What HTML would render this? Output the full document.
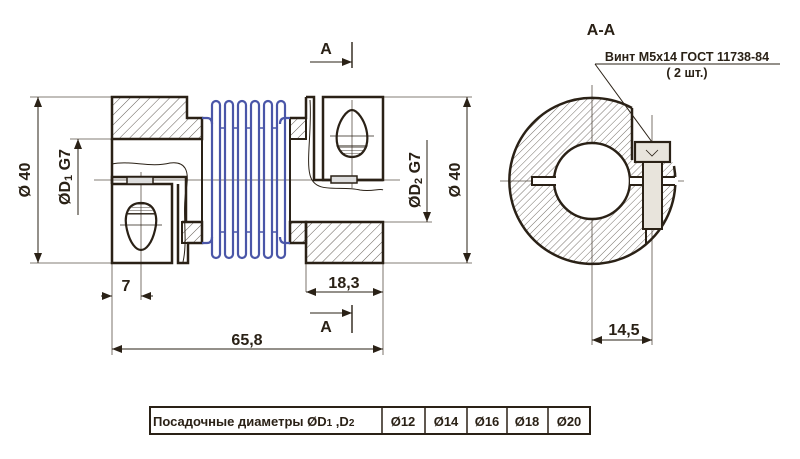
<!DOCTYPE html>
<html><head><meta charset="utf-8"><style>
html,body{margin:0;padding:0;background:#fff;}
svg{display:block;}
text{font-family:"Liberation Sans",sans-serif;font-weight:bold;fill:#2a2116;}
</style></head><body>
<svg width="800" height="459" viewBox="0 0 800 459" xmlns="http://www.w3.org/2000/svg">
<defs>
<pattern id="h" width="7" height="7" patternUnits="userSpaceOnUse" patternTransform="rotate(45)">
<line x1="0" y1="0" x2="0" y2="7" stroke="#3a3128" stroke-width="0.8"/>
</pattern>
<pattern id="hs" width="5" height="5" patternUnits="userSpaceOnUse" patternTransform="rotate(45)">
<line x1="0" y1="0" x2="0" y2="5" stroke="#3a3128" stroke-width="0.7"/>
</pattern>
<pattern id="h2" width="3" height="3" patternUnits="userSpaceOnUse" patternTransform="rotate(90)">
<line x1="0" y1="0" x2="0" y2="3" stroke="#3a3128" stroke-width="0.9"/>
</pattern>
<marker id="a" markerWidth="10" markerHeight="8" refX="10" refY="4" orient="auto-start-reverse" markerUnits="userSpaceOnUse">
<path d="M0,0 L10,4 L0,8 Z" fill="#2a2116"/>
</marker>
</defs>
<g stroke="#2a2116" fill="none">
<!-- thin extension/center lines -->
<g stroke-width="0.8" stroke="#5a5046">
<line x1="94" y1="180" x2="400" y2="180"/>
<line x1="30" y1="97" x2="112" y2="97"/>
<line x1="30" y1="263" x2="112" y2="263"/>
<line x1="70" y1="139" x2="112" y2="139"/>
<line x1="383" y1="97" x2="472" y2="97"/>
<line x1="383" y1="263" x2="472" y2="263"/>
<line x1="383" y1="222" x2="432" y2="222"/>
<line x1="112" y1="263" x2="112" y2="355"/>
<line x1="141" y1="172" x2="141" y2="300"/>
<line x1="306" y1="263" x2="306" y2="292"/>
<line x1="383" y1="263" x2="383" y2="355"/>
<line x1="352" y1="100" x2="352" y2="188"/>
<line x1="500" y1="181" x2="684" y2="181"/>
<line x1="592" y1="85" x2="592" y2="345"/>
<line x1="652" y1="115" x2="652" y2="345"/>
</g>
<!-- dimensions -->
<g stroke-width="1">
<line x1="38" y1="97" x2="38" y2="263" marker-start="url(#a)" marker-end="url(#a)"/>
<line x1="78" y1="215" x2="78" y2="139" marker-end="url(#a)"/>
<line x1="467" y1="97" x2="467" y2="263" marker-start="url(#a)" marker-end="url(#a)"/>
<line x1="427" y1="140" x2="427" y2="222" marker-end="url(#a)"/>
<line x1="101" y1="296" x2="112" y2="296" marker-end="url(#a)"/>
<line x1="153" y1="296" x2="141" y2="296" marker-end="url(#a)"/>
<line x1="306" y1="292" x2="383" y2="292" marker-start="url(#a)" marker-end="url(#a)"/>
<line x1="112" y1="349" x2="383" y2="349" marker-start="url(#a)" marker-end="url(#a)"/>
<line x1="310" y1="62" x2="352" y2="62" marker-end="url(#a)"/>
<line x1="310" y1="313" x2="352" y2="313" marker-end="url(#a)"/>
<line x1="592" y1="340" x2="652" y2="340" marker-start="url(#a)" marker-end="url(#a)"/>
<line x1="352" y1="42" x2="352" y2="68" stroke-width="1.4"/>
<line x1="352" y1="305" x2="352" y2="333" stroke-width="1.4"/>
<line x1="595" y1="64" x2="780" y2="64"/>
<line x1="595" y1="64" x2="652" y2="142"/>
</g>
<!-- left hub -->
<g stroke-width="2.5">
<path d="M112,97 H187 V118 H202 V139 H112 Z" fill="url(#h)"/>
<path d="M112,139 V263 H172 V184 H112" />
<path d="M172,177 H112 V184"/>
<rect x="127" y="177" width="26" height="7" fill="#ddd" stroke-width="1.5"/>
<path d="M172,177 H186 V222" />
<path d="M178,184 V263 H188 V243 H202 V222 H182" />
<rect x="182" y="222" width="20" height="21" fill="url(#h)" stroke-width="2"/>
<line x1="202" y1="139" x2="202" y2="222" stroke-width="2"/>
</g>
<path d="M112,164 C130,160 150,168 170,163 C185,161 190,170 186,190 C182,215 188,240 183,262" stroke-width="1"/>
<path d="M141,203 C156,203 158,218 155,230 C152,243 146,250 141,250 C136,250 130,243 127,230 C124,218 126,203 141,203 Z" stroke-width="2.2"/>
<path d="M127,214 C128,205 134,203 141,203 C148,203 154,205 155,214 Z" fill="url(#h2)" stroke-width="1"/>
<line x1="120" y1="225" x2="162" y2="225" stroke-width="0.8"/>
<!-- right hub -->
<g stroke-width="2.5">
<path d="M306,263 H383 V222 H306 Z" fill="url(#h)"/>
<path d="M290,222 H306 V243 H290 Z" fill="url(#h)"/>
<path d="M323,97 H383 V180 H323 Z"/>
<path d="M306,97 H314 V180 H383"/>
<rect x="331" y="176" width="26" height="7" fill="#ddd" stroke-width="1.5"/>
<path d="M290,118 H306 V97"/>
<rect x="290" y="118" width="16" height="21" fill="url(#h)" stroke-width="2"/>
<line x1="290" y1="139" x2="290" y2="222" stroke-width="2"/>
</g>
<path d="M310,100 C312,130 306,160 310,175 C315,195 340,185 360,190 C372,192 380,188 383,190" stroke-width="1"/>
<path d="M352,110 C357,110 365,120 367,133 C369,148 362,157 352,157 C342,157 335,148 337,133 C339,120 347,110 352,110 Z" stroke-width="2.2"/>
<path d="M337,146 C340,154 346,157 352,157 C358,157 364,154 367,146 Z" fill="url(#h2)" stroke-width="1"/>
<line x1="330" y1="136" x2="374" y2="136" stroke-width="0.8"/>
<!-- bellows -->
<g stroke="#4a56a8" stroke-width="2.2">
<path d="M202,118 H207 Q212,118 212,124 M202,243 H207 Q212,243 212,237"/>
<path d="M290,118 H285 Q280,118 280,124 M290,243 H285 Q280,243 280,237"/>
<rect x="212" y="101" width="8" height="157" rx="4"/>
<rect x="225" y="101" width="8" height="157" rx="4"/>
<rect x="238" y="101" width="8" height="157" rx="4"/>
<rect x="251" y="101" width="8" height="157" rx="4"/>
<rect x="264" y="101" width="8" height="157" rx="4"/>
<rect x="277" y="101" width="8" height="157" rx="4"/>
<path d="M220,128 h5 M233,128 h5 M246,128 h5 M259,128 h5 M272,128 h5 M220,232 h5 M233,232 h5 M246,232 h5 M259,232 h5 M272,232 h5" stroke-width="1.6"/>
</g>
<!-- section A-A -->
<path d="M632,108 A83,83 0 1 0 672,160 H632 Z M630,181 A38,38 0 1 0 554,181 A38,38 0 1 0 630,181 Z" fill="url(#hs)" fill-rule="evenodd" stroke="none"/>
<path d="M632,108 A83,83 0 1 0 674,166" stroke-width="2.5"/>
<path d="M632,108 V160" stroke-width="2.5"/>
<circle cx="592" cy="181" r="38" fill="#fff" stroke-width="2.5"/>
<rect x="532" y="177" width="24" height="8" fill="#fff" stroke="none"/>
<path d="M556,177 H532 V185 H556" stroke-width="2"/>
<rect x="630" y="177" width="48" height="8" fill="#fff" stroke="none"/>
<line x1="630" y1="177" x2="675" y2="177" stroke-width="2"/>
<line x1="630" y1="185" x2="675" y2="185" stroke-width="2"/>
<rect x="635" y="142" width="35" height="20" fill="#e8e4dc" stroke-width="2.2"/>
<rect x="643" y="162" width="19" height="67" fill="#e8e4dc" stroke-width="2"/>
<path d="M646,150 L652,156 L658,150" stroke-width="0.8"/>
<line x1="646" y1="229" x2="646" y2="244" stroke-width="2"/>
<!-- table -->
<rect x="150" y="407" width="440" height="27" stroke-width="2"/>
<g stroke-width="1.5">
<line x1="382" y1="407" x2="382" y2="434"/>
<line x1="425" y1="407" x2="425" y2="434"/>
<line x1="467" y1="407" x2="467" y2="434"/>
<line x1="507" y1="407" x2="507" y2="434"/>
<line x1="548" y1="407" x2="548" y2="434"/>
</g>
</g>
<!-- texts -->
<text x="26" y="180" font-size="16" text-anchor="middle" transform="rotate(-90 26 180)" dominant-baseline="middle">Ø 40</text>
<text x="66" y="177" font-size="16" text-anchor="middle" transform="rotate(-90 66 177)" dominant-baseline="middle">ØD<tspan font-size="11" dy="3">1</tspan><tspan dy="-3"> G7</tspan></text>
<text x="416" y="180" font-size="16" text-anchor="middle" transform="rotate(-90 416 180)" dominant-baseline="middle">ØD<tspan font-size="11" dy="3">2</tspan><tspan dy="-3"> G7</tspan></text>
<text x="456" y="180" font-size="16" text-anchor="middle" transform="rotate(-90 456 180)" dominant-baseline="middle">Ø 40</text>
<text x="126" y="291" font-size="16" text-anchor="middle">7</text>
<text x="344" y="288" font-size="16" text-anchor="middle">18,3</text>
<text x="247" y="345" font-size="16" text-anchor="middle">65,8</text>
<text x="326" y="54" font-size="16" text-anchor="middle">A</text>
<text x="326" y="332" font-size="16" text-anchor="middle">A</text>
<text x="601" y="35" font-size="16" text-anchor="middle">A-A</text>
<text x="687" y="61" font-size="12.5" text-anchor="middle">Винт М5х14 ГОСТ 11738-84</text>
<text x="687" y="77" font-size="12.5" text-anchor="middle">( 2 шт.)</text>
<text x="624" y="335" font-size="16" text-anchor="middle">14,5</text>
<text x="153" y="426" font-size="13">Посадочные  диаметры  ØD<tspan font-size="10">1</tspan> ,D<tspan font-size="10">2</tspan></text>
<text x="403" y="426" font-size="13" text-anchor="middle">Ø12</text>
<text x="446" y="426" font-size="13" text-anchor="middle">Ø14</text>
<text x="487" y="426" font-size="13" text-anchor="middle">Ø16</text>
<text x="527" y="426" font-size="13" text-anchor="middle">Ø18</text>
<text x="569" y="426" font-size="13" text-anchor="middle">Ø20</text>
</svg>
</body></html>
